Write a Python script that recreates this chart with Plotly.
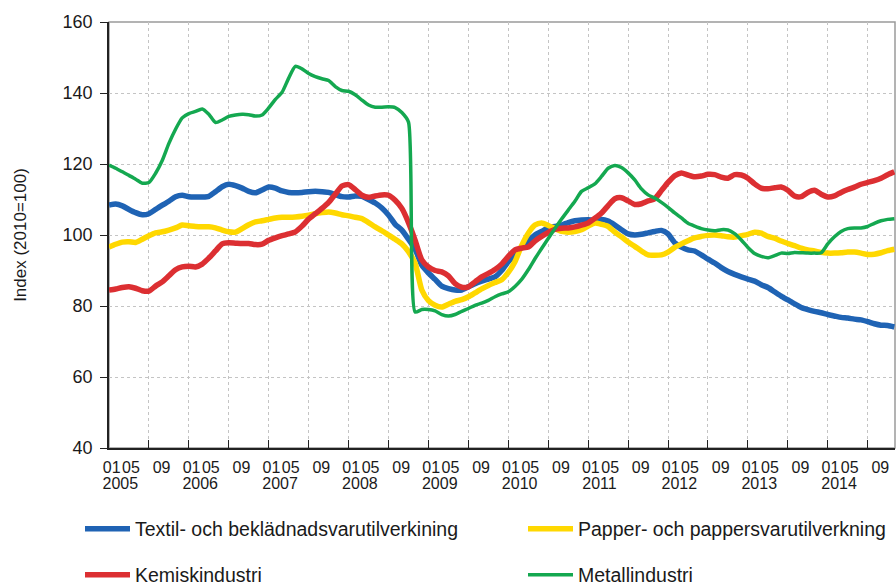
import plotly.graph_objects as go

# ---- data (monthly index, Jan 2005 onwards; 2010=100) ----
years = [2005, 2006, 2007, 2008, 2009, 2010, 2011, 2012, 2013, 2014]
month_labels = ["01", "05", "09"]

series_names = [
    "Textil- och beklädnadsvarutilverkining",
    "Papper- och pappersvarutilverkning",
    "Kemiskindustri",
    "Metallindustri",
]

textil = [
    108.4, 108.7, 108.2, 107.2, 106.3, 105.7, 106.0, 107.2, 108.4, 109.5, 110.8, 111.2,
    110.8, 110.7, 110.7, 110.9, 112.2, 113.6, 114.3, 113.9, 113.2, 112.3, 111.9, 112.7,
    113.5, 113.2, 112.4, 112.0, 111.9, 112.0, 112.2, 112.3, 112.2, 112.0, 111.4, 110.8,
    110.7, 111.0, 110.9, 110.0, 109.0, 107.6, 105.6, 103.0, 101.4, 98.8, 96.0, 91.5,
    89.3, 87.5, 85.6, 84.9, 84.5, 84.5, 85.4, 86.3, 87.0, 87.6, 88.2, 90.0,
    92.5, 94.4, 96.5, 98.3, 100.0, 101.0, 102.0, 102.4, 102.8, 103.5, 104.0, 104.2,
    104.3, 104.2, 104.4, 103.9, 102.8, 101.5, 100.3, 100.0, 100.2, 100.6, 101.0, 101.3,
    100.3, 97.8, 96.6, 95.8, 95.5, 94.4, 93.2, 92.1, 90.8, 89.7, 88.9, 88.2,
    87.6, 87.0, 86.0, 85.2, 84.0, 82.8, 81.7, 80.6, 79.6, 79.0, 78.5, 78.1,
    77.6, 77.2, 76.8, 76.6, 76.3, 76.1, 75.6, 75.0, 74.6, 74.5, 74.1,
]

papper = [
    96.6, 97.4, 98.0, 98.1, 97.9, 98.8, 99.8, 100.6, 100.9, 101.4, 102.0, 102.8,
    102.6, 102.4, 102.3, 102.3, 102.0, 101.4, 100.9, 100.8, 101.8, 102.9, 103.7, 104.0,
    104.4, 104.8, 105.0, 105.0, 105.1, 105.3, 105.6, 106.0, 106.3, 106.5, 106.2, 105.7,
    105.4, 105.0, 104.6, 103.5, 102.3, 101.2, 100.0, 98.8, 97.5, 95.3, 92.0, 84.5,
    81.5, 80.2, 79.7, 80.5, 81.3, 81.8, 82.6, 83.7, 84.8, 85.8, 86.6, 87.4,
    89.5, 92.5, 97.0, 100.5, 102.8, 103.4, 102.7, 101.8, 101.0, 100.8, 101.0, 101.5,
    102.5, 103.4, 103.0, 102.4, 100.8, 99.5, 98.0, 96.8, 95.5, 94.4, 94.3, 94.4,
    95.2, 96.5, 97.5, 98.4, 99.2, 99.6, 99.9, 100.0, 99.8, 99.5, 99.4, 99.8,
    100.2, 100.8, 100.5, 99.6, 99.1, 98.3, 97.6, 97.0, 96.3, 95.8, 95.5, 95.1,
    94.9, 94.9, 95.0, 95.2, 95.2, 94.9, 94.5, 94.6, 95.0, 95.6, 96.0,
]

kemi = [
    84.5, 84.8, 85.2, 85.4, 85.0, 84.3, 84.2, 85.6, 86.8, 88.5, 90.2, 91.0,
    91.2, 91.0, 91.8, 93.5, 95.5, 97.5, 97.8, 97.7, 97.6, 97.6, 97.3, 97.4,
    98.5, 99.2, 99.8, 100.3, 100.9, 102.5, 104.5, 106.0, 107.5, 109.2, 111.5, 113.8,
    114.2, 112.8, 111.2, 110.6, 111.0, 111.3, 111.2, 109.8, 107.5, 103.5, 98.5, 93.0,
    91.0, 90.0, 89.6, 88.5, 86.3, 85.3, 85.4, 86.8, 88.2, 89.2, 90.3, 91.8,
    94.0, 95.8, 96.3, 96.6, 98.3, 99.6, 100.7, 101.6, 101.9, 102.0, 102.3, 102.8,
    103.4, 104.7, 106.2, 108.3, 110.2, 110.5, 109.6, 108.6, 108.8, 109.6, 110.2, 112.5,
    114.8, 116.7, 117.5, 116.9, 116.4, 116.6, 117.1, 117.0, 116.3, 116.0, 117.0, 116.9,
    116.0, 114.4, 113.2, 113.0, 113.3, 113.5, 112.6, 111.0, 110.8, 112.0, 112.6, 111.5,
    110.7, 111.0, 112.0, 112.8, 113.5, 114.3, 114.8, 115.3, 116.0, 117.0, 117.8,
]

metall = [
    119.7, 118.8, 117.8, 116.8, 115.7, 114.6, 114.8, 117.4, 121.0, 125.8, 129.8, 133.0,
    134.2, 134.8, 135.5, 134.0, 131.7, 132.4, 133.4, 133.8, 134.0, 133.9, 133.5, 133.8,
    135.8, 138.2, 140.2, 144.2, 147.5, 146.8, 145.5, 144.6, 144.0, 143.5, 141.8, 140.7,
    140.5, 139.5, 138.0, 136.6, 136.0, 136.0, 136.1, 135.9, 134.5, 131.8, 78.3, 79.0,
    79.0, 78.6, 77.6, 77.2, 77.6, 78.5, 79.3, 80.2, 80.8, 81.6, 82.6, 83.4,
    84.0, 85.5, 87.5, 90.2, 93.3, 96.2, 99.0, 101.8, 104.5, 107.0, 109.5, 112.3,
    113.3, 114.4, 116.5, 118.8, 119.6, 119.0, 117.5, 115.5, 113.0, 111.3, 110.4, 109.2,
    107.8, 106.2, 104.8, 103.3, 102.5, 101.8, 101.4, 101.2, 101.5, 101.4, 100.4, 98.6,
    96.5, 94.8, 94.0, 93.6, 94.2, 94.9, 94.8, 95.1, 95.0, 94.9, 94.9, 95.0,
    97.5, 99.5, 101.0, 101.8, 102.0, 102.0, 102.4, 103.3, 104.0, 104.4, 104.6,
]

# ---- styling ----
FONT = "Liberation Sans, Arial, sans-serif"
TXT = "#1a1a1a"
colors = ["#1F63B4", "#FFD800", "#DC2F32", "#14A850"]
widths = [5.5, 5.5, 5.5, 3.5]
legend_ids = ["legend", "legend2", "legend3", "legend4"]
# legend placement (container px): text-left x, row centre y
legend_pos = [(135, 529), (578, 529), (135, 575), (578, 575)]
ITEMW = 45
all_series = [textil, papper, kemi, metall]

months = list(range(len(textil)))

fig = go.Figure()
for name, vals, col, w, lg in zip(series_names, all_series, colors, widths, legend_ids):
    fig.add_trace(go.Scatter(
        x=months, y=vals, mode="lines", name=name,
        line=dict(color=col, width=w, shape="spline", smoothing=0.6),
        legend=lg, hoverinfo="x+y+name",
    ))

# invisible carrier traces so the label-only axes get drawn
for ax in ["x2", "x3"]:
    fig.add_trace(go.Scatter(x=months, y=textil, xaxis=ax, yaxis="y", mode="lines",
                             line=dict(width=0), opacity=0, showlegend=False, hoverinfo="skip"))

# tick label positions (month offsets within each year)
lab_offsets = [0.4, 3.3, 7.9]
lab_vals, lab_text = [], []
for k in range(len(years)):
    for off, ml in zip(lab_offsets, month_labels):
        lab_vals.append(12 * k + off)
        lab_text.append(ml)
year_vals = [12 * k + 1.7 for k in range(len(years))]
year_text = [str(y) for y in years]

xr = [0, 118.1]

legends = {}
for lg, (lx, ly) in zip(legend_ids, legend_pos):
    legends[lg] = dict(
        orientation="h", xref="container", yref="container",
        x=(lx - ITEMW - 10) / 896, y=1 - ly / 587, xanchor="left", yanchor="middle",
        bgcolor="rgba(0,0,0,0)", font=dict(family=FONT, size=19.5, color=TXT), itemwidth=ITEMW,
    )

fig.update_layout(
    width=896, height=587,
    margin=dict(l=109, r=1, t=22, b=139, autoexpand=False),
    paper_bgcolor="white", plot_bgcolor="white",
    font=dict(family=FONT, size=16, color=TXT),
    xaxis=dict(
        range=xr, tick0=0, dtick=6, showticklabels=False, automargin=False,
        ticks="inside", ticklen=8, tickcolor="#222", tickwidth=1.3,
        showgrid=True, gridcolor="#c4c4c4", griddash="dot", gridwidth=1,
        showline=True, linecolor="#222", linewidth=1.5, zeroline=False,
    ),
    xaxis2=dict(
        range=xr, overlaying="x", anchor="y", side="bottom", automargin=False,
        tickmode="array", tickvals=lab_vals, ticktext=lab_text,
        ticks="", showgrid=False, showline=False, zeroline=False,
        tickfont=dict(family=FONT, size=16, color=TXT), tickangle=0, ticklabelstandoff=8,
    ),
    xaxis3=dict(
        range=xr, overlaying="x", anchor="y", side="bottom", automargin=False,
        tickmode="array", tickvals=year_vals, ticktext=year_text,
        ticks="", showgrid=False, showline=False, zeroline=False,
        tickfont=dict(family=FONT, size=16, color=TXT), tickangle=0, ticklabelstandoff=24,
    ),
    yaxis=dict(
        range=[40, 160], tick0=40, dtick=20, automargin=False,
        ticks="outside", ticklen=7, tickcolor="#222", tickwidth=1.3,
        showgrid=True, gridcolor="#c4c4c4", griddash="dot", gridwidth=1,
        showline=True, linecolor="#222", linewidth=1.5, zeroline=False,
        tickfont=dict(family=FONT, size=18, color=TXT), ticklabelstandoff=4,
        title=dict(text="Index (2010=100)", font=dict(family=FONT, size=17, color=TXT), standoff=32),
    ),
    shapes=[dict(type="rect", xref="paper", yref="paper", x0=0, x1=1, y0=0, y1=1,
                 line=dict(color="#9a9a9a", width=1.5), layer="below")],
    showlegend=True,
    **legends,
)

fig.write_html("out.html", config={"displayModeBar": False},
               post_script="document.body.style.margin='0px';")
